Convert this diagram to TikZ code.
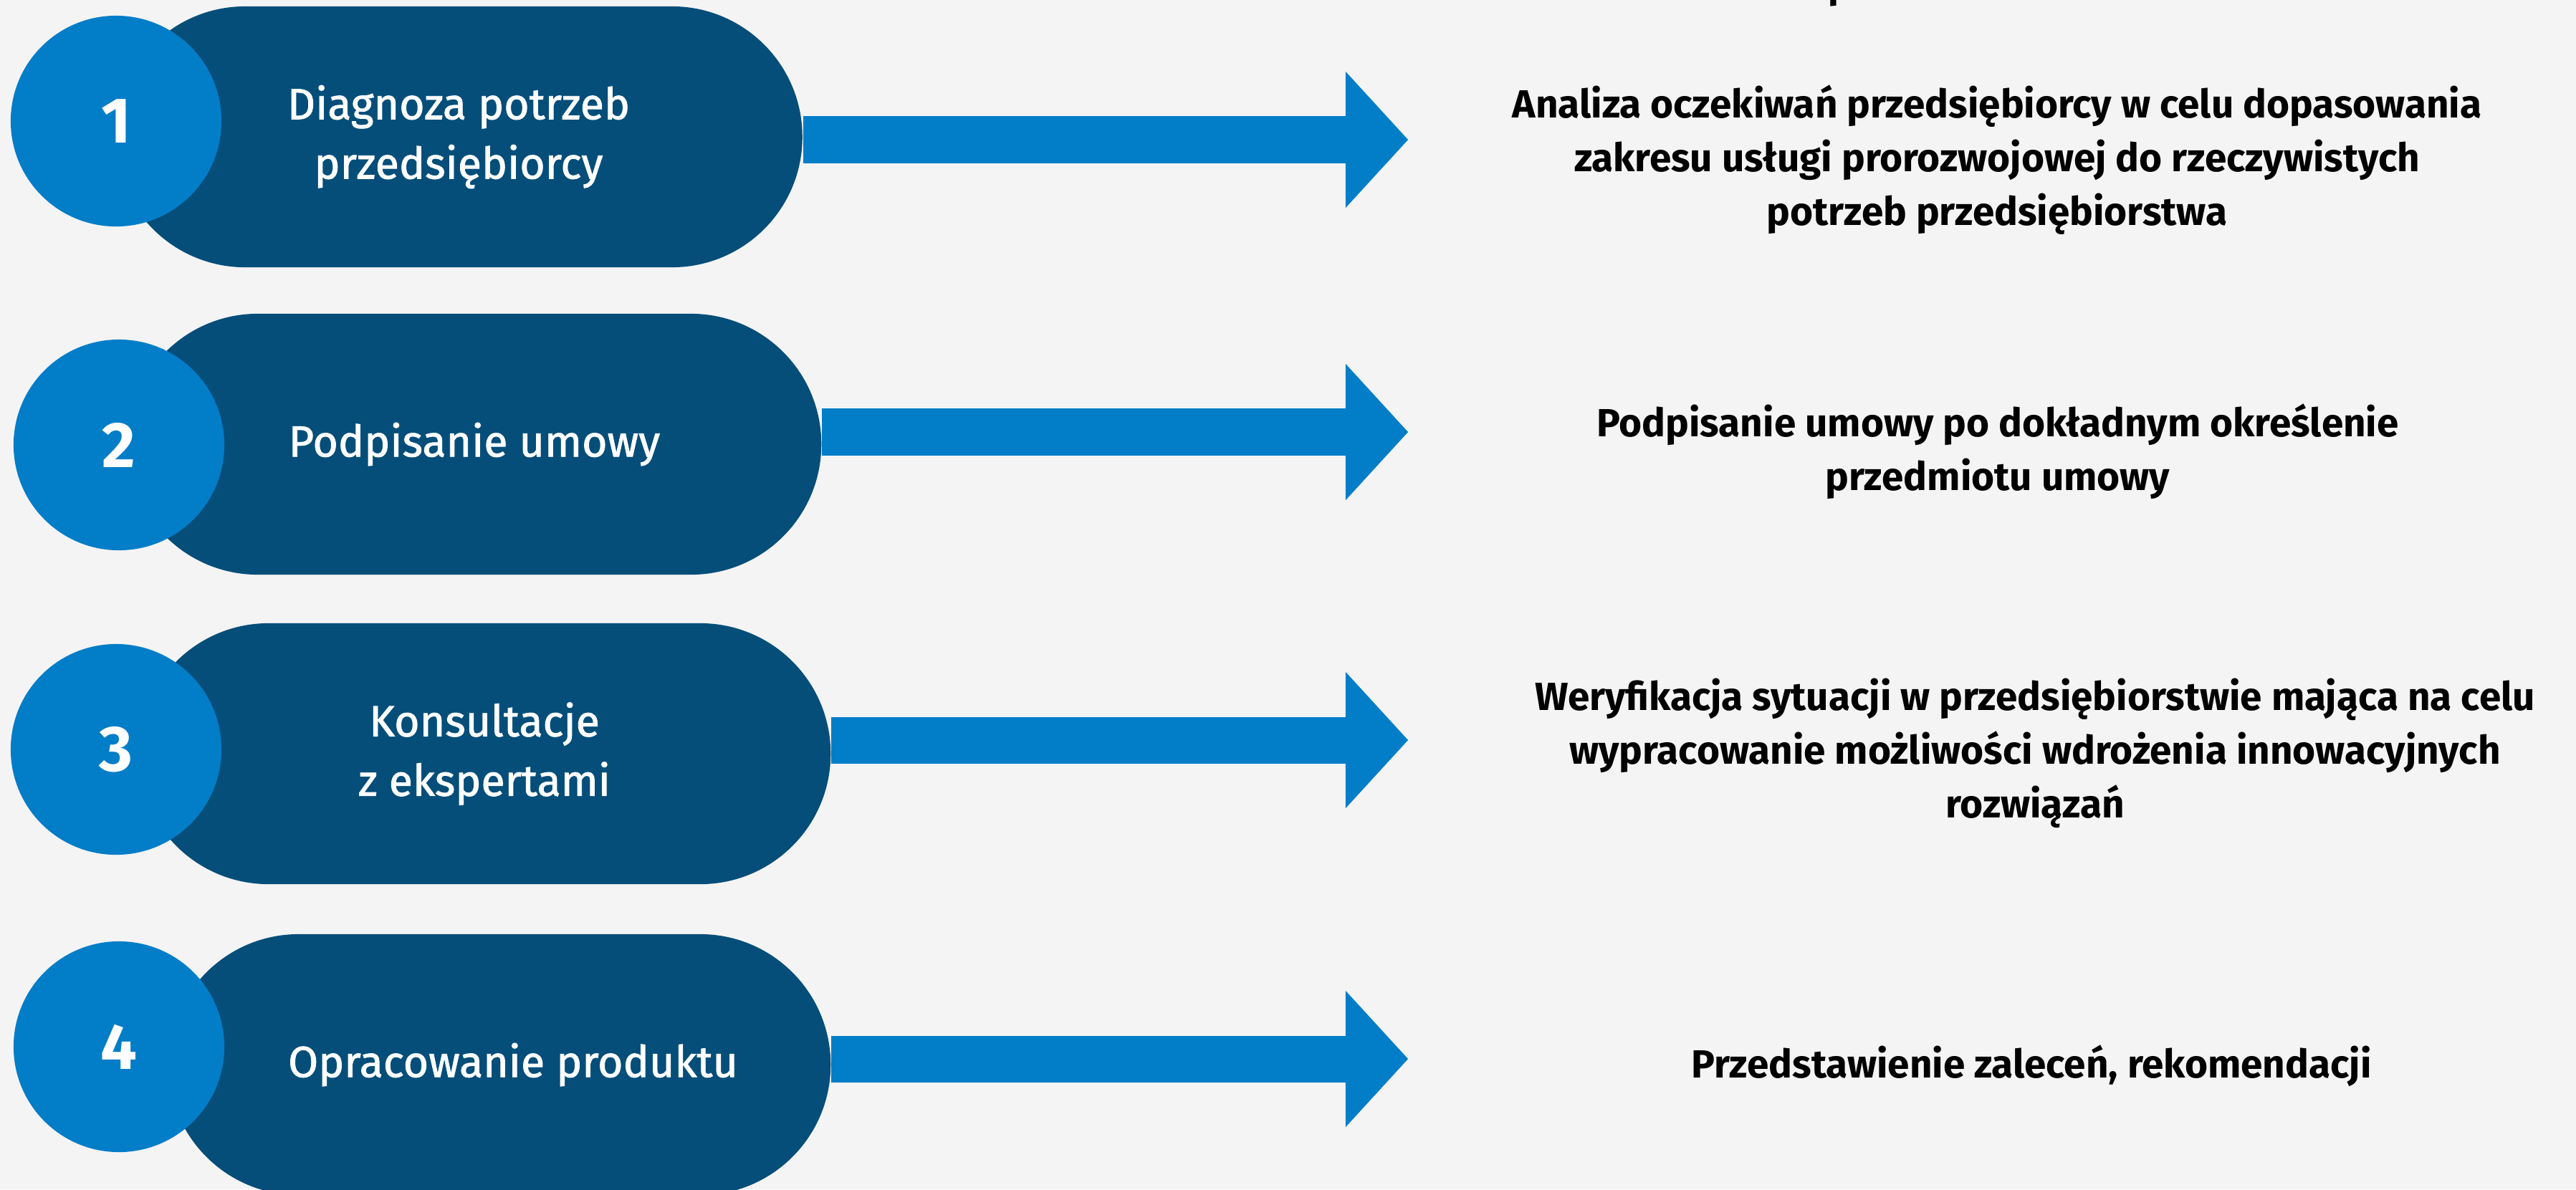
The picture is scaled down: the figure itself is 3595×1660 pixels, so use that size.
\documentclass[tikz,border=0pt]{standalone}
\usepackage{fontspec}
\setmainfont{Fira Sans}
\newfontfamily\stagefont{Fira Sans}[FakeBold=1.4]
\usetikzlibrary{arrows.meta}
\definecolor{navy}{HTML}{054E7A}
\definecolor{azure}{HTML}{027DC8}
\definecolor{paper}{HTML}{F4F4F4}

\begin{document}
\begin{tikzpicture}[x=0.01cm,y=-0.01cm,
    stage/.style={fill=navy,text=white,rounded corners=1.82cm,minimum height=3.64cm,inner sep=0pt,align=center,font=\stagefont\fontsize{17.3}{23.6}\selectfont},
    badge/.style={circle,fill=azure,text=white,minimum size=2.94cm,inner sep=0pt,font=\bfseries\fontsize{25.6}{30}\selectfont},
    flow/.style={azure,line width=0.65cm,-{Triangle[length=0.87cm,width=1.9cm,line width=0pt]}},
    note/.style={align=center,inner sep=0pt,font=\bfseries\fontsize{15.6}{21.3}\selectfont}]
        \fill[paper] (0,0) rectangle (3595,1660);
        \useasboundingbox (0,0) rectangle (3595,1660);
        \node[anchor=base west,inner sep=0pt,font=\bfseries\fontsize{14.9}{18}\selectfont] (title) at (2551,-3) {p};

        \node[stage,minimum width=9.59cm] (stage1) at (640,191)  {Diagnoza potrzeb\\przedsiębiorcy};
        \node[stage,minimum width=9.68cm] (stage2) at (662,620)  {Podpisanie umowy};
        \node[stage,minimum width=9.66cm] (stage3) at (676,1052) {Konsultacje\\z ekspertami};
        \node[stage,minimum width=9.24cm] (stage4) at (697,1486) {\hspace*{0.38cm}Opracowanie produktu};

        \node[badge] (num1) at (162,169)  {1};
        \node[badge] (num2) at (166,621)  {2};
        \node[badge] (num3) at (162,1046) {3};
        \node[badge] (num4) at (166,1461) {4};

        \coordinate (tip1) at (1965,195);
        \coordinate (tip2) at (1965,603);
        \coordinate (tip3) at (1965,1033);
        \coordinate (tip4) at (1965,1478);
        \draw[flow] (stage1.east |- tip1) -- (tip1);
        \draw[flow] (stage2.east |- tip2) -- (tip2);
        \draw[flow] (stage3.east |- tip3) -- (tip3);
        \draw[flow] (stage4.east |- tip4) -- (tip4);

        \node[note] (desc1) at (2787,223)  {Analiza oczekiwań przedsiębiorcy w celu dopasowania\\zakresu usługi prorozwojowej do rzeczywistych\\potrzeb przedsiębiorstwa};
        \node[note] (desc2) at (2788,630)  {Podpisanie umowy po dokładnym określenie\\przedmiotu umowy};
        \node[note] (desc3) at (2840,1051) {Weryfikacja sytuacji w przedsiębiorstwie mająca na celu\\wypracowanie możliwości wdrożenia innowacyjnych\\rozwiązań};
        \node[note] (desc4) at (2835,1488) {Przedstawienie zaleceń, rekomendacji};
    \end{tikzpicture}
\end{document}
